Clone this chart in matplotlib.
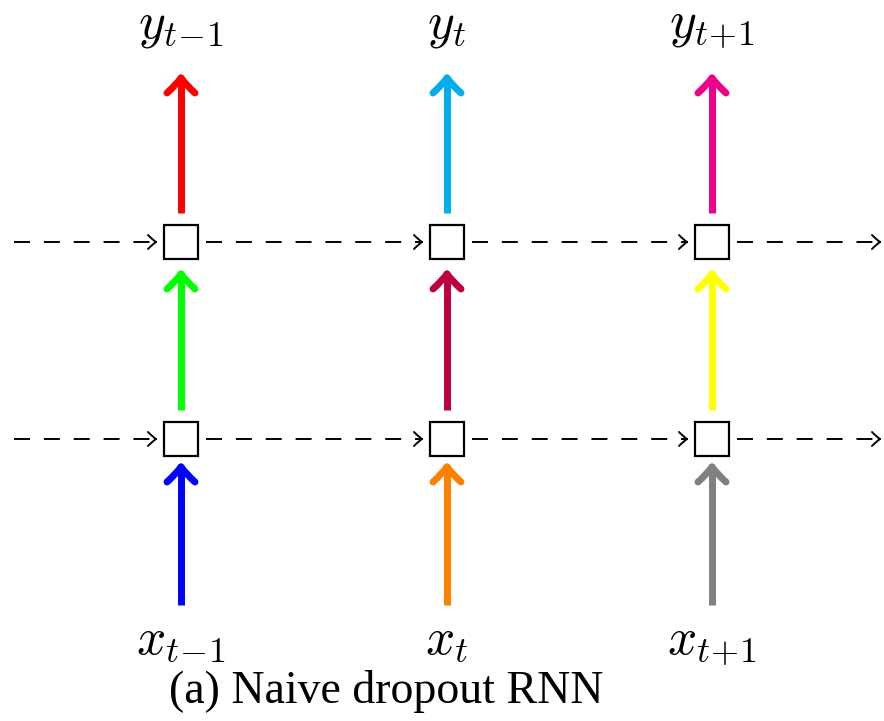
import numpy as np
import matplotlib
matplotlib.use("Agg")
import matplotlib.pyplot as plt
from matplotlib.path import Path
from matplotlib.patches import PathPatch, Rectangle

plt.rcParams["mathtext.fontset"] = "cm"
plt.rcParams["lines.scale_dashes"] = False

# labels and colours of the naive dropout RNN diagram
input_labels = [r"$x_{t\!-\!1}$", r"$x_t$", r"$x_{t\!+\!1}$"]
output_labels = [r"$y_{t\!-\!1}$", r"$y_t$", r"$y_{t\!+\!1}$"]
input_colors = ["#0000ff", "#ff8000", "#808080"]
hidden_colors = ["#00ff00", "#bf0040", "#ffff00"]
output_colors = ["#ff0000", "#00aeef", "#ec008c"]
caption = "(a) Naive dropout RNN"

# layout (pixels)
col_x = [181, 447, 712]
row_y = [242, 439]          # upper / lower box centres
box = 34
W, H = 884, 721


def head(ax, tip, d, color, lw, length, half):
    # curved "to" style arrow head, d = unit direction of travel
    d = np.asarray(d, float)
    n = np.array([-d[1], d[0]])
    tip = np.asarray(tip, float)
    base = tip - d * length
    verts, codes = [], []
    for s in (1, -1):
        wing = base + s * n * half
        ctrl = tip - d * length * 0.45 + s * n * half * 0.35
        verts += [wing, ctrl, tip]
        codes += [Path.MOVETO, Path.CURVE3, Path.CURVE3]
    p = PathPatch(Path(verts, codes), fill=False, edgecolor=color, lw=lw,
                  capstyle="round", joinstyle="round")
    ax.add_patch(p)


fig = plt.figure(figsize=(W / 100, H / 100), dpi=100)
ax = fig.add_axes([0, 0, 1, 1])
ax.set_xlim(0, W)
ax.set_ylim(H, 0)
ax.axis("off")

# boxes
for cx in col_x:
    for cy in row_y:
        ax.add_patch(Rectangle((cx - box / 2, cy - box / 2), box, box,
                               fill=False, edgecolor="black", lw=1.6))

# dashed recurrent connections
gap = 8
for cy in row_y:
    starts = [14] + [cx + box / 2 + gap for cx in col_x]
    ends = [cx - box / 2 - gap for cx in col_x] + [880]
    for x0, x1 in zip(starts, ends):
        ax.plot([x0, x1 - 2], [cy, cy], color="black", lw=1.4,
                dashes=(11.5, 10), solid_capstyle="butt")
        head(ax, (x1, cy), (1, 0), "black", 1.4, 8, 7)

# vertical coloured arrows: (tail, tip) per layer
segments = [(605, 467, input_colors), (410, 274, hidden_colors), (213, 78, output_colors)]
for tail, tip, colors in segments:
    for cx, c in zip(col_x, colors):
        ax.plot([cx, cx], [tail, tip + 2], color=c, lw=5, solid_capstyle="butt")
        head(ax, (cx, tip), (0, -1), c, 5, 15, 14)

for cx, lab in zip(col_x, output_labels):
    ax.text(cx, 37, lab, ha="center", va="baseline", fontsize=37)
for cx, lab in zip(col_x, input_labels):
    ax.text(cx, 654, lab, ha="center", va="baseline", fontsize=37)

ax.text(386, 703, caption, ha="center", va="baseline", fontsize=33,
        family="Liberation Serif")

fig.savefig("out.png", dpi=100)
